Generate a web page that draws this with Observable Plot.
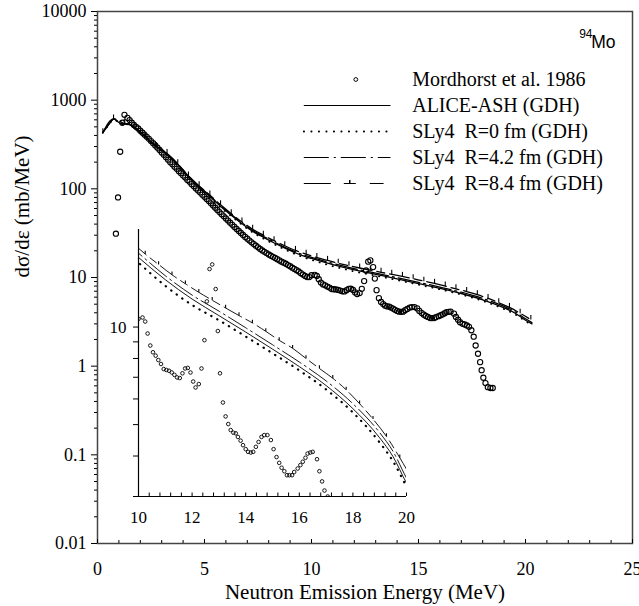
<!DOCTYPE html>
<html><head><meta charset="utf-8">
<script src="https://cdn.jsdelivr.net/npm/d3@7"></script>
<script src="https://cdn.jsdelivr.net/npm/@observablehq/plot@0.6"></script>
<style>
body{margin:0;background:#fff}
#wrap{position:relative;width:639px;height:606px;background:#fff}
#wrap svg{position:absolute;overflow:visible}
</style></head><body><div id="wrap"></div>
<script>
// ---------- data ----------
const expPoints = [[0.86,31.2],[0.96,80],[1.06,262],[1.16,556],[1.26,684],
[1.4,631],[1.5,596],[1.6,556],[1.7,525],[1.8,501],[1.9,479],[2.0,452],[2.1,429],[2.2,407],[2.3,386],[2.4,366],[2.5,346],[2.6,327],[2.7,308],[2.8,291],[2.9,274],[3.0,257],[3.1,242],[3.2,227],[3.3,213],[3.4,200],[3.5,189],[3.6,178],[3.7,168],[3.8,158],[3.9,150],[4.0,141],[4.1,134],[4.2,126],[4.3,120],[4.4,113],[4.5,107],[4.6,101],[4.7,96],[4.8,91],[4.9,86],[5.0,81.3],[5.1,76.9],[5.2,72.8],[5.3,68.7],[5.4,64.9],[5.5,61.2],[5.6,57.8],[5.7,54.7],[5.8,51.8],[5.9,49.0],[6.0,46.3],[6.1,43.9],[6.2,41.5],[6.3,39.3],[6.4,37.2],[6.5,35.3],[6.6,33.5],[6.7,31.8],[6.8,30.2],[6.9,28.7],[7.0,27.4],[7.1,26.1],[7.2,24.9],[7.3,23.8],[7.4,22.8],[7.5,21.9],[7.6,21.0],[7.7,20.2],[7.8,19.5],[7.9,18.8],[8.0,18.2],[8.1,17.6],[8.2,17.1],[8.3,16.6],[8.4,16.1],[8.5,15.6],[8.6,15.1],[8.7,14.7],[8.8,14.3],[8.9,13.8],[9.0,13.4],[9.1,12.9],[9.2,12.5],[9.3,12.1],[9.4,11.7],[9.5,11.2],[9.6,10.8],[9.7,10.4],[9.8,10.1],[9.9,10.1],
[10.0,10.6],[10.15,10.7],[10.25,10.4],[10.34,9.55],[10.44,8.77],[10.54,8.36],[10.64,8.16],[10.74,7.91],[10.84,7.69],[10.94,7.42],[11.04,7.37],[11.14,7.33],[11.24,7.24],[11.34,7.12],[11.44,6.99],[11.54,6.96],[11.64,7.2],[11.74,7.45],[11.84,7.48],[11.94,7.24],[12.04,6.79],[12.13,6.51],[12.25,6.67],[12.35,7.45],[12.46,9.11],[12.55,12.0],[12.65,15.1],[12.75,15.6],[12.88,13.1],[12.96,9.72],[13.04,7.2],[13.15,5.85],[13.25,5.3],[13.35,5.02],[13.44,4.81],[13.54,4.72],[13.63,4.7],[13.71,4.58],[13.81,4.46],[13.9,4.32],[14.0,4.2],[14.09,4.12],[14.19,4.1],[14.28,4.12],[14.38,4.27],[14.48,4.42],[14.59,4.58],[14.69,4.64],[14.81,4.64],[14.94,4.48],[15.04,4.2],[15.15,3.97],[15.25,3.81],[15.34,3.68],[15.44,3.59],[15.54,3.49],[15.63,3.49],[15.73,3.49],[15.81,3.57],[15.94,3.66],[16.04,3.75],[16.13,3.84],[16.23,3.95],[16.31,4.07],[16.41,4.1],[16.5,4.12],[16.66,3.91],[16.75,3.59],[16.85,3.34],[16.94,3.13],[17.06,3.0],
[17.16,2.95],[17.26,2.88],[17.36,2.78],[17.47,2.54],[17.58,2.15],[17.67,1.71],[17.78,1.38],[17.88,1.11],[17.95,0.9],[18.03,0.74],[18.13,0.645],[18.24,0.58],[18.36,0.567],[18.47,0.567]];

const theoryE = [0.25,0.5,0.77,1.0,1.15,1.4,1.7,2.0,2.6,3.2,3.75,4.35,5.25,5.78,6.26,6.76,7.26,7.76,8.26,8.76,9.26,9.78,10,11,12,13,14,15,16,17,18,19,19.5,20,20.3];
const aliceV = [430,520,612,560,537,542,495,435,320,250,188,129,82,62.5,50.2,40.3,33.0,28.3,24.5,21.4,18.9,17.0,16.4,14.0,12.2,10.85,9.65,8.55,7.55,6.6,5.6,4.55,3.98,3.3,3.0];
const sly0V  = [428,515,605,555,533,537,490,430,316,246,185,126.5,80,61,49,39.2,32.1,27.4,23.7,20.7,18.3,16.4,15.8,13.4,11.7,10.5,9.35,8.3,7.35,6.42,5.45,4.4,3.85,3.22,2.92];
const sly42V = [432,522,615,562,540,545,498,438,323,253,190,131,83.5,63.8,51.3,41.2,33.8,29.0,25.1,21.9,19.4,17.5,16.9,14.4,12.55,11.2,9.95,8.82,7.8,6.82,5.8,4.72,4.13,3.42,3.1];
const sly84E = [0.25,0.75,1.25,1.75,2.25,2.75,3.25,3.75,4.25,4.75,5.25,5.75,6.25,6.75,7.25,7.75,8.25,8.75,9.25,9.75,10.25,10.75,11.25,11.75,12.25,12.75,13.25,13.75,14.25,14.75,15.25,15.75,16.25,16.75,17.25,17.75,18.25,18.75,19.25,19.75,20.25];
const sly84V = [430,615,545,490,392,300,250,192,140,108,85,66,52.5,42.3,35.0,30.0,26.0,22.8,20.2,18.3,16.8,15.6,14.5,13.6,12.8,12.1,11.45,10.85,10.3,9.7,9.1,8.6,8.0,7.45,6.95,6.4,5.8,5.2,4.6,3.95,3.35];

const legendNames = ["Mordhorst et al. 1986","ALICE-ASH (GDH)","SLy4  R=0 fm (GDH)","SLy4  R=4.2 fm (GDH)","SLy4  R=8.4 fm (GDH)"];
const nucleusMass = "94", nucleusSymbol = "Mo";
const yMajor = [0.01,0.1,1,10,100,1000,10000];
const yMinor = [0.02,0.03,0.04,0.05,0.06,0.07,0.08,0.09,0.2,0.3,0.4,0.5,0.6,0.7,0.8,0.9,2,3,4,5,6,7,8,9,20,30,40,50,60,70,80,90,200,300,400,500,600,700,800,900,2000,3000,4000,5000,6000,7000,8000,9000];
const xMajor = [0,5,10,15,20,25];
const xMinor = [1,2,3,4,6,7,8,9,11,12,13,14,16,17,18,19,21,22,23,24];
const insetXLabels = [10,12,14,16,18,20];
const insetXTicks = [10,10.4,10.8,11.2,11.6,12,12.4,12.8,13.2,13.6,14,14.4,14.8,15.2,15.6,16,16.4,16.8,17.2,17.6,18,18.4,18.8,19.2,19.6,20];
const insetYTicks = [3,4,5,6,7,8,9,10];

// ---------- helpers ----------
const SERIF = "Liberation Serif", SANS = "Liberation Sans";
const zip = (E, V) => E.map((e, i) => [e, V[i]]);
const alice = zip(theoryE, aliceV), sly0 = zip(theoryE, sly0V), sly42 = zip(theoryE, sly42V), sly84 = zip(sly84E, sly84V);
const tickUp = {draw(ctx, size) { const l = Math.sqrt(size / Math.PI); ctx.moveTo(0, 0); ctx.lineTo(0, -l); }};
const X = d => d[0], Y = d => d[1];

function curves(o) {
  const c = o.clip ? {clip: true} : {};
  return [
    Plot.line(sly0, {x: X, y: Y, curve: "monotone-x", stroke: "black", strokeWidth: o.dotW, strokeDasharray: "0.3,6.5", strokeLinecap: "round", ...c}),
    Plot.line(sly42, {x: X, y: Y, curve: "monotone-x", stroke: "black", strokeWidth: o.w, strokeDasharray: "22,4,2,4", ...c}),
    Plot.line(alice, {x: X, y: Y, curve: "monotone-x", stroke: "black", strokeWidth: o.w, ...c}),
    Plot.line(sly84, {x: X, y: Y, curve: "monotone-x", stroke: "black", strokeWidth: o.w, strokeDasharray: "20,5,8,5", ...c}),
    Plot.dot(sly84, {x: X, y: Y, symbol: tickUp, r: o.tick, stroke: "black", fill: "none", strokeWidth: 1.1, ...c}),
    Plot.dot(expPoints, {x: X, y: Y, r: o.r, stroke: "black", strokeWidth: o.cw, fill: "none", ...c})
  ];
}

// ---------- main chart ----------
const main = Plot.plot({
  width: 639, height: 606,
  marginLeft: 97, marginRight: 7, marginTop: 11, marginBottom: 63,
  style: {fontSize: "18px", color: "black", background: "white"},
  x: {domain: [0, 25]},
  y: {type: "log", domain: [0.01, 10000]},
  marks: [
    Plot.frame({stroke: "#444", strokeWidth: 1.5}),
    Plot.axisY({ticks: yMajor, tickSize: 6, tickPadding: 5, tickFormat: d => String(d), label: null, fontSize: 18}),
    Plot.axisY({ticks: yMinor, tickSize: 3, tickFormat: () => "", label: null}),
    Plot.axisX({ticks: xMajor, tickSize: -4, tickPadding: 23, tickFormat: d => String(d), label: null, fontSize: 18}),
    Plot.axisX({ticks: xMinor, tickSize: -3, tickFormat: () => "", label: null}),
    ...curves({w: 1.3, dotW: 1.8, tick: 4.5, r: 2.6, cw: 1.1}),
    Plot.text(["dσ/dε (mb/MeV)"], {frameAnchor: "left", dx: -75, rotate: -90, fontSize: 21}),
    Plot.text(["Neutron Emission Energy (MeV)"], {frameAnchor: "bottom", dy: 55.5, lineAnchor: "bottom", fontSize: 21}),
    Plot.text([nucleusSymbol], {frameAnchor: "top-right", dx: -17, dy: 36.7, textAnchor: "end", lineAnchor: "bottom", fontSize: 17.5}),
    Plot.text([nucleusMass], {frameAnchor: "top-right", dx: -40, dy: 26.5, textAnchor: "end", lineAnchor: "bottom", fontSize: 12})
  ]
});

// ---------- inset ----------
const inset = Plot.plot({
  width: 320, height: 310,
  marginLeft: 38, marginRight: 14, marginTop: 9, marginBottom: 34,
  style: {fontSize: "17px", color: "black", background: "transparent"},
  x: {domain: [10, 20]},
  y: {type: "log", domain: [3, 20]},
  marks: [
    Plot.ruleX([10], {stroke: "black", strokeWidth: 1.2}),
    Plot.ruleY([3], {stroke: "black", strokeWidth: 1.2}),
    Plot.axisY({ticks: insetYTicks, tickSize: 5, tickPadding: 7, tickFormat: d => d === 10 ? "10" : "", label: null, fontSize: 17}),
    Plot.axisX({ticks: insetXTicks, tickSize: -3.5, tickFormat: () => "", label: null}),
    Plot.axisX({ticks: insetXLabels, tickSize: 0, tickPadding: 14, tickFormat: d => String(d), label: null, fontSize: 17}),
    ...curves({w: 0.9, dotW: 2.2, tick: 3.2, r: 1.8, cw: 0.9, clip: true})
  ]
});

// ---------- legend ----------
const legend = Plot.plot({
  width: 330, height: 135,
  marginLeft: 3.3, marginRight: 240, marginTop: 13.3, marginBottom: 17.3,
  style: {fontSize: "20px", color: "black", background: "transparent"},
  x: {domain: [0, 1], axis: null},
  y: {type: "point", domain: legendNames, axis: null, padding: 0},
  marks: [
    Plot.dot([legendNames[0]], {x: () => 0.6, y: d => d, r: 1.9, stroke: "black", strokeWidth: 1, fill: "none"}),
    Plot.link([legendNames[1]], {x1: () => 0, x2: () => 1, y1: d => d, y2: d => d, stroke: "black", strokeWidth: 1.2}),
    Plot.link([legendNames[2]], {x1: () => 0, x2: () => 1, y1: d => d, y2: d => d, stroke: "black", strokeWidth: 1.8, strokeDasharray: "0.3,7.2", strokeLinecap: "round"}),
    Plot.link([legendNames[3]], {x1: () => 0, x2: () => 1, y1: d => d, y2: d => d, stroke: "black", strokeWidth: 1.1, strokeDasharray: "25,5,2,5"}),
    Plot.link([legendNames[4]], {x1: () => 0, x2: () => 0.92, y1: d => d, y2: d => d, stroke: "black", strokeWidth: 1.1, strokeDasharray: "27,13,12,14"}),
    Plot.dot([legendNames[4]], {x: () => 0.53, y: d => d, symbol: tickUp, r: 3.5, stroke: "black", fill: "none"}),
    Plot.text(legendNames, {y: d => d, frameAnchor: "left", dx: 108.4, textAnchor: "start", lineAnchor: "middle", fontSize: 20})
  ]
});

const wrap = document.getElementById("wrap");
main.style.left = "0px"; main.style.top = "0px";
inset.style.left = "100px"; inset.style.top = "220px";
legend.style.left = "300px"; legend.style.top = "65px";
wrap.append(main, inset, legend);

// fonts: set directly on every svg, group and text element
for (const svg of [main, inset, legend]) {
  svg.setAttribute("font-family", SERIF);
  d3.select(svg).selectAll("g,text").attr("font-family", SERIF);
}
d3.select(main).selectAll("text")
  .filter(function() { return this.textContent === nucleusSymbol || this.textContent === nucleusMass; })
  .attr("font-family", SANS);
</script></body></html>
